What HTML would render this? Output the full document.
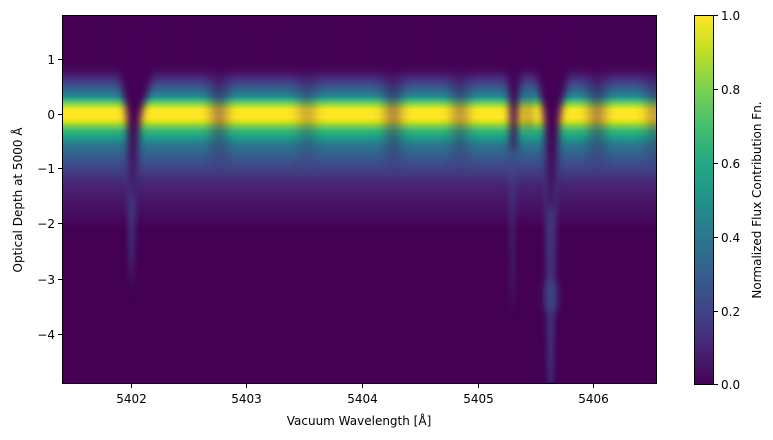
<!DOCTYPE html>
<html><head><meta charset="utf-8"><style>
html,body{margin:0;padding:0;background:#fff;}
svg{display:block;font-family:"DejaVu Sans","Liberation Sans",sans-serif;}
</style></head><body>
<svg width="773" height="440" viewBox="0 0 773 440" xmlns="http://www.w3.org/2000/svg">
<defs>
<linearGradient id="band" x1="0" y1="15" x2="0" y2="384" gradientUnits="userSpaceOnUse">
<stop offset="0" stop-color="#440154"/>
<stop offset="0.13" stop-color="#440154"/>
<stop offset="0.149" stop-color="#460a5d"/>
<stop offset="0.171" stop-color="#472d7b"/>
<stop offset="0.19" stop-color="#3b528b"/>
<stop offset="0.209" stop-color="#2c728e"/>
<stop offset="0.222" stop-color="#21918c"/>
<stop offset="0.236" stop-color="#5ec962"/>
<stop offset="0.247" stop-color="#bddf26"/>
<stop offset="0.257" stop-color="#fde725"/>
<stop offset="0.279" stop-color="#fde725"/>
<stop offset="0.29" stop-color="#d0e11c"/>
<stop offset="0.30" stop-color="#7ad151"/>
<stop offset="0.314" stop-color="#35b779"/>
<stop offset="0.33" stop-color="#1f9e89"/>
<stop offset="0.352" stop-color="#2a788e"/>
<stop offset="0.379" stop-color="#355f8d"/>
<stop offset="0.415" stop-color="#414487"/>
<stop offset="0.46" stop-color="#482475"/>
<stop offset="0.515" stop-color="#471365"/>
<stop offset="0.58" stop-color="#440154"/>
<stop offset="1" stop-color="#440154"/>
</linearGradient>
<linearGradient id="cb" x1="0" y1="1" x2="0" y2="0">
<stop offset="0" stop-color="#440154"/>
<stop offset="0.1" stop-color="#482475"/>
<stop offset="0.2" stop-color="#414487"/>
<stop offset="0.3" stop-color="#355f8d"/>
<stop offset="0.4" stop-color="#2a788e"/>
<stop offset="0.5" stop-color="#21918c"/>
<stop offset="0.6" stop-color="#22a884"/>
<stop offset="0.7" stop-color="#44bf70"/>
<stop offset="0.8" stop-color="#7ad151"/>
<stop offset="0.9" stop-color="#bddf26"/>
<stop offset="1" stop-color="#fde725"/>
</linearGradient>
<filter id="bl" x="-50%" y="-20%" width="200%" height="140%"><feGaussianBlur stdDeviation="4 5"/></filter>
<filter id="bl2" x="-80%" y="-20%" width="260%" height="140%"><feGaussianBlur stdDeviation="7 10"/></filter>
<filter id="bl3" x="-80%" y="-20%" width="260%" height="140%"><feGaussianBlur stdDeviation="3 12"/></filter>
<clipPath id="pc"><rect x="62" y="15" width="595" height="369"/></clipPath>
</defs>
<rect x="62" y="15" width="595" height="369" fill="url(#band)"/>
<g clip-path="url(#pc)">
<g filter="url(#bl2)" fill="#440154">
<polygon points="211,40 227,40 222,160 216,160" opacity="0.7"/>
<polygon points="297,40 317,40 310,160 304,160" opacity="0.4"/>
<polygon points="385,40 401,40 396,160 390,160" opacity="0.7"/>
<polygon points="452,40 468,40 463,160 457,160" opacity="0.6"/>
<polygon points="589,40 605,40 600,160 594,160" opacity="0.7"/>
<polygon points="647,40 663,40 658,160 652,160" opacity="0.55"/>
</g>
<g filter="url(#bl3)">
<polygon points="126,150 138,150 133,275 130,275" fill="#3e4a89" opacity="0.75"/>
<polygon points="509,150 516,150 514,300 511,300" fill="#3b4c89" opacity="0.5"/>
<polygon points="544,160 558,160 553,390 548,390" fill="#3e4a89" opacity="0.7"/>
</g>
<rect x="544" y="281" width="14" height="30" fill="#3b5a8c" opacity="0.55" filter="url(#bl)"/>
<g filter="url(#bl)" fill="#440154">
<polygon points="112,15 156,15 151,80 142,113 137,150 134,200 131,200 129,150 126,113 121,80"/>
<polygon points="533,15 572,15 567,80 561,113 556,160 553,210 549,210 547,160 543,113 538,80"/>
<polygon points="505,15 522,15 519,100 516,150 511,150 509,100"/>
</g>
<rect x="522" y="95" width="12" height="35" fill="#440154" opacity="0.25" filter="url(#bl)"/>
</g>
<rect x="62.5" y="15.5" width="594" height="368" fill="none" stroke="#000" stroke-width="1"/>
<g stroke="#000" stroke-width="1">
<line x1="131.5" y1="384" x2="131.5" y2="388"/>
<line x1="246.5" y1="384" x2="246.5" y2="388"/>
<line x1="362.5" y1="384" x2="362.5" y2="388"/>
<line x1="478.5" y1="384" x2="478.5" y2="388"/>
<line x1="593.5" y1="384" x2="593.5" y2="388"/>
<line x1="58" y1="59.5" x2="62" y2="59.5"/>
<line x1="58" y1="114.5" x2="62" y2="114.5"/>
<line x1="58" y1="168.5" x2="62" y2="168.5"/>
<line x1="58" y1="223.5" x2="62" y2="223.5"/>
<line x1="58" y1="279.5" x2="62" y2="279.5"/>
<line x1="58" y1="334.5" x2="62" y2="334.5"/>
</g>
<g font-size="12" fill="#000" text-anchor="middle">
<text x="131.5" y="403">5402</text>
<text x="246.5" y="403">5403</text>
<text x="362.5" y="403">5404</text>
<text x="478.5" y="403">5405</text>
<text x="593.5" y="403">5406</text>
<text x="359" y="425">Vacuum Wavelength [Å]</text>
</g>
<g font-size="12" fill="#000" text-anchor="end">
<text x="55" y="64">1</text>
<text x="55" y="119">0</text>
<text x="55" y="173">−1</text>
<text x="55" y="228">−2</text>
<text x="55" y="284">−3</text>
<text x="55" y="339">−4</text>
</g>
<text transform="translate(22,200) rotate(-90)" font-size="12" text-anchor="middle">Optical Depth at 5000 Å</text>
<rect x="694.5" y="15.5" width="19" height="369" fill="url(#cb)" stroke="#000" stroke-width="1"/>
<g stroke="#000">
<line x1="714" y1="15.5" x2="718" y2="15.5"/>
<line x1="714" y1="89.5" x2="718" y2="89.5"/>
<line x1="714" y1="163.5" x2="718" y2="163.5"/>
<line x1="714" y1="237.5" x2="718" y2="237.5"/>
<line x1="714" y1="311.5" x2="718" y2="311.5"/>
<line x1="714" y1="384.5" x2="718" y2="384.5"/>
</g>
<g font-size="12" fill="#000">
<text x="721" y="20">1.0</text>
<text x="721" y="94">0.8</text>
<text x="721" y="168">0.6</text>
<text x="721" y="242">0.4</text>
<text x="721" y="316">0.2</text>
<text x="721" y="389">0.0</text>
</g>
<text transform="translate(761,200) rotate(-90)" font-size="12" text-anchor="middle">Normalized Flux Contribution Fn.</text>
</svg>
</body></html>
